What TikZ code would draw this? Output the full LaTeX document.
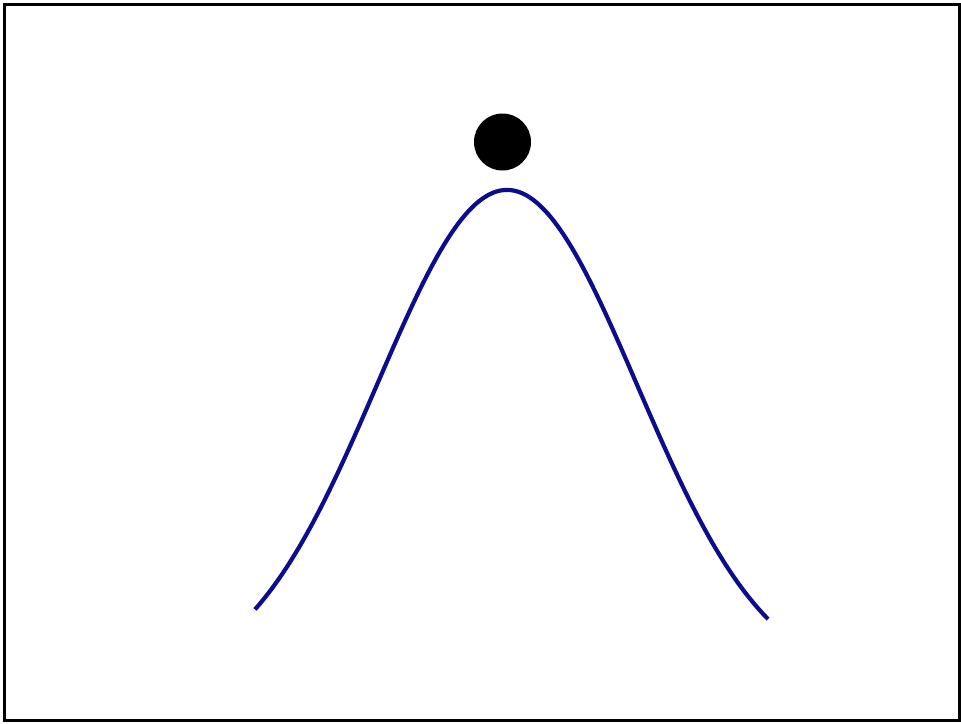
\documentclass[tikz,border=0pt]{standalone}
\definecolor{curveblue}{RGB}{12,12,140}
\tikzset{
  frame/.style={draw=black, line width=3pt},
  bell/.style={draw=curveblue, line width=4.2pt, line join=round},
  ball/.style={circle, fill=black, inner sep=0pt, minimum size=57pt}
}
\begin{document}
\begin{tikzpicture}[x=1pt,y=-1pt]
  \useasboundingbox (0,0) rectangle (961,723);
  \draw[frame] (4,4) rectangle (959.6,720.6);
  \draw[bell] plot[domain=255:768, samples=120, smooth]
    (\x, {190+495*(1-exp(-0.5*((\x-507)/130)^2))});
  \node[ball] (b) at (502.5,142) {};
\end{tikzpicture}
\end{document}
